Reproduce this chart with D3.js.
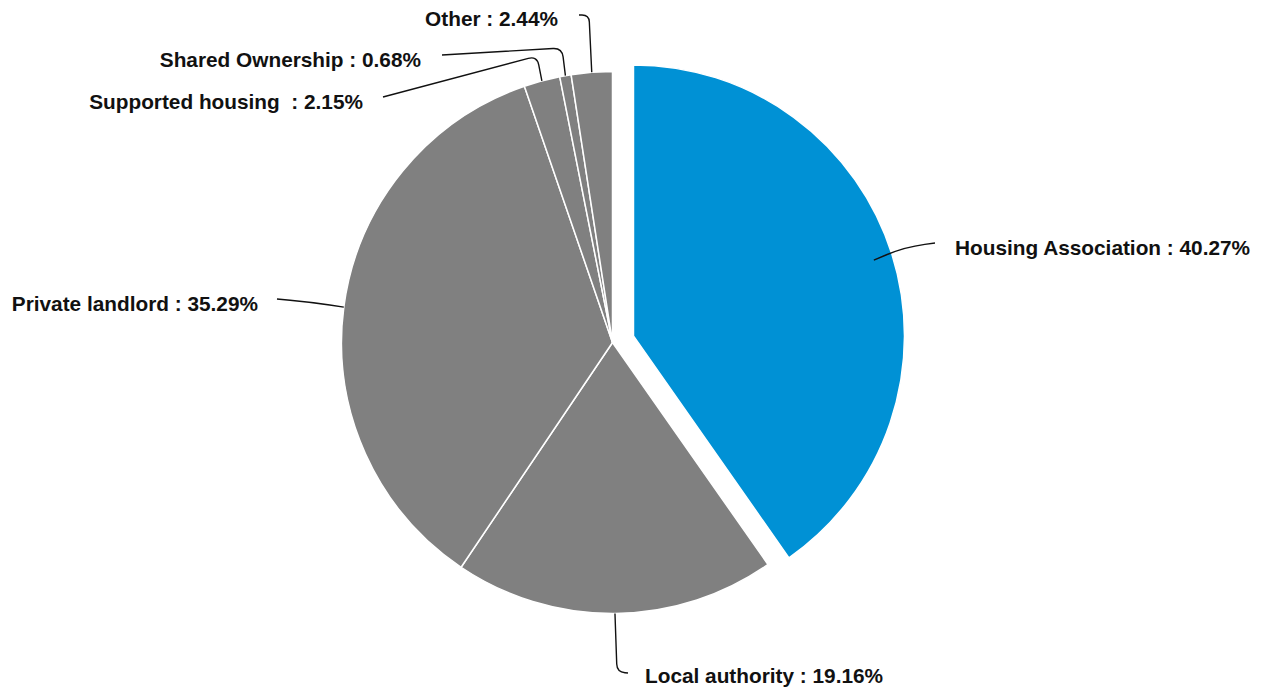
<!DOCTYPE html>
<html>
<head>
<meta charset="utf-8">
<script src="https://cdn.jsdelivr.net/npm/d3@7"></script>
<style>
  html, body { margin: 0; padding: 0; background: #ffffff; }
  svg { display: block; }
  text { font-family: "Liberation Sans", Arial, sans-serif; font-weight: bold; font-size: 20.8px; fill: #111; }
</style>
</head>
<body>
<svg id="chart" width="1265" height="689"></svg>
<script>
// Tenure split
const categories = ["Housing Association", "Local authority", "Private landlord", "Supported housing ", "Shared Ownership", "Other"];
const shares = [40.27, 19.16, 35.29, 2.15, 0.68, 2.44];
const highlighted = "Housing Association";

// Label placement: text anchor point, leader elbow and leader end
const labelLayout = {
  "Housing Association": { tx: 955, ty: 248, anchor: "start", elbow: [905, 247], end: [935, 243], rad: 0.93, corner: 20 },
  "Local authority":     { tx: 645, ty: 676, anchor: "start", elbow: [617, 672], end: [628, 673], rad: 1.0, corner: 8 },
  "Private landlord":    { tx: 258, ty: 304, anchor: "end",   elbow: [310, 302], end: [277, 299], rad: 1.0, corner: 20 },
  "Supported housing ":  { tx: 363, ty: 102, anchor: "end",   elbow: [537, 56],  end: [383, 97],  rad: 1.0, corner: 9 },
  "Shared Ownership":    { tx: 421, ty: 60,  anchor: "end",   elbow: [562, 48],  end: [442, 55],  rad: 1.0, corner: 9 },
  "Other":               { tx: 558, ty: 19,  anchor: "end",   elbow: [589, 15],  end: [579, 15],  rad: 1.0, corner: 7 }
};

const cx = 612.5, cy = 342.5, radius = 271, explode = 22;

const data = categories.map((c, i) => ({ name: c, value: shares[i] }));

const pie = d3.pie().value(d => d.value).sort(null).startAngle(0).endAngle(2 * Math.PI);
const arcs = pie(data);
const arc = d3.arc().innerRadius(0).outerRadius(radius);

const color = d3.scaleOrdinal()
  .domain(categories)
  .range(categories.map(c => c === highlighted ? "#0091d5" : "#808080"));

const svg = d3.select("#chart");
const g = svg.append("g").attr("transform", `translate(${cx},${cy})`);

function offsetOf(d) {
  if (d.data.name !== highlighted) return [0, 0];
  const a = (d.startAngle + d.endAngle) / 2;
  return [Math.sin(a) * explode, -Math.cos(a) * explode];
}

g.selectAll("path.slice")
  .data(arcs)
  .join("path")
  .attr("class", "slice")
  .attr("d", arc)
  .attr("transform", d => { const o = offsetOf(d); return `translate(${o[0]},${o[1]})`; })
  .attr("fill", d => color(d.data.name))
  .attr("stroke", "#ffffff")
  .attr("stroke-width", 1.5)
  .attr("stroke-linejoin", "round");

// Leader lines with a rounded corner at the elbow
function leaderPath(d) {
  const L = labelLayout[d.data.name];
  const a = (d.startAngle + d.endAngle) / 2;
  const o = offsetOf(d);
  const r = radius * L.rad;
  const s = [cx + o[0] + Math.sin(a) * r, cy + o[1] - Math.cos(a) * r];
  const e = L.elbow, t = L.end;
  const unit = (p, q) => { const dx = q[0] - p[0], dy = q[1] - p[1]; const len = Math.hypot(dx, dy) || 1; return [dx / len, dy / len]; };
  const u1 = unit(e, s), u2 = unit(e, t);
  const k1 = Math.min(L.corner, Math.hypot(s[0] - e[0], s[1] - e[1]) * 0.9);
  const k2 = Math.min(L.corner, Math.hypot(t[0] - e[0], t[1] - e[1]) * 0.9);
  const p = d3.path();
  p.moveTo(s[0], s[1]);
  p.lineTo(e[0] + u1[0] * k1, e[1] + u1[1] * k1);
  p.quadraticCurveTo(e[0], e[1], e[0] + u2[0] * k2, e[1] + u2[1] * k2);
  p.lineTo(t[0], t[1]);
  return p.toString();
}

svg.selectAll("path.leader")
  .data(arcs)
  .join("path")
  .attr("class", "leader")
  .attr("d", leaderPath)
  .attr("fill", "none")
  .attr("stroke", "#111")
  .attr("stroke-width", 1.4);

const fmt = d3.format(".2f");
svg.selectAll("text.label")
  .data(arcs)
  .join("text")
  .attr("class", "label")
  .attr("x", d => labelLayout[d.data.name].tx)
  .attr("y", d => labelLayout[d.data.name].ty)
  .attr("dy", "0.35em")
  .attr("text-anchor", d => labelLayout[d.data.name].anchor)
  .attr("xml:space", "preserve")
  .style("white-space", "pre")
  .text(d => `${d.data.name} : ${fmt(d.data.value)}%`);
</script>
</body>
</html>
